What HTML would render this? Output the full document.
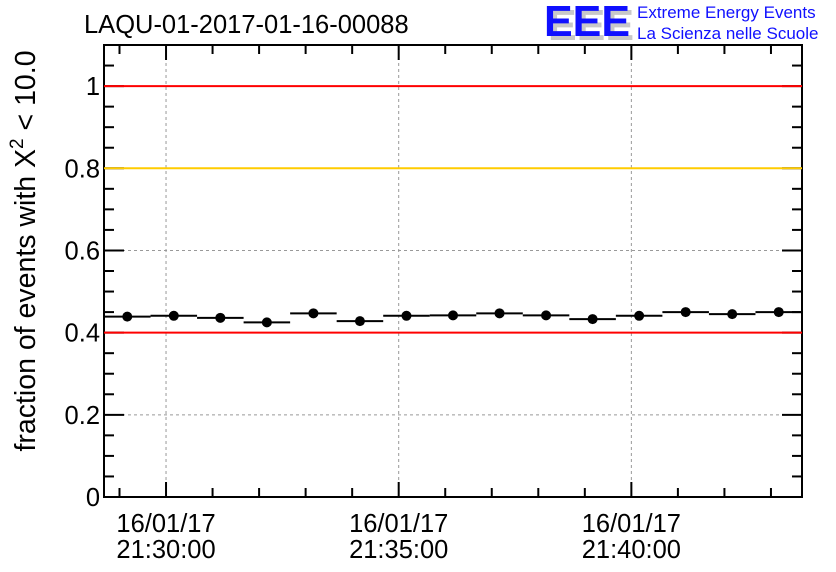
<!DOCTYPE html>
<html><head><meta charset="utf-8"><style>
html,body{margin:0;padding:0;background:#fff;}
svg{display:block;font-family:"Liberation Sans",sans-serif;}
</style></head><body>
<svg id="chart" width="836" height="572" viewBox="0 0 836 572">
<text x="84" y="33" font-size="25.5" fill="#000">LAQU-01-2017-01-16-00088</text>
<g>
<text x="548" y="40" font-size="44" font-weight="bold" fill="#c8c8c8" textLength="86" lengthAdjust="spacingAndGlyphs">EEE</text>
<text x="544" y="36" font-size="44" font-weight="bold" fill="#1010ff" textLength="86" lengthAdjust="spacingAndGlyphs">EEE</text>
<text x="637" y="18" font-size="17" fill="#1010ff">Extreme Energy Events</text>
<text x="637" y="39" font-size="17" fill="#1010ff">La Scienza nelle Scuole</text>
</g>
<text transform="translate(35,251) rotate(-90)" text-anchor="middle" font-size="28.5" fill="#000">fraction of events with X<tspan dy="-12" font-size="19">2</tspan><tspan dy="12"> &lt; 10.0</tspan></text>
<g id="grid"></g><g id="axes"></g><g id="marks"></g>
</svg>
<script>
const binStartMinutes = [-1.333,-0.333,0.667,1.667,2.667,3.667,4.667,5.667,6.667,7.667,8.667,9.667,10.667,11.667,12.667];
const fractionValues = [0.439,0.441,0.436,0.425,0.447,0.428,0.441,0.442,0.447,0.442,0.433,0.441,0.450,0.445,0.450];
const xTickMinutes = [0,5,10];
const xTickDates = ["16/01/17","16/01/17","16/01/17"];
const xTickTimes = ["21:30:00","21:35:00","21:40:00"];
const yTickValues = [0,0.2,0.4,0.6,0.8,1];
const yTickLabels = ["0","0.2","0.4","0.6","0.8","1"];
const refLineValues = [1,0.8,0.4];
const refLineColors = ["#ff0000","#ffcc00","#ff0000"];

const L=104,R=802,T=45,B=497;
const xMin=-1.333,xMax=13.667,yMin=0,yMax=1.1;
const xs=m=>L+(m-xMin)/(xMax-xMin)*(R-L);
const ys=v=>B-(v-yMin)/(yMax-yMin)*(B-T);
const NS="http://www.w3.org/2000/svg";
function mk(tag,attrs,parent){const e=document.createElementNS(NS,tag);for(const k in attrs)e.setAttribute(k,attrs[k]);parent.appendChild(e);return e;}
const grid=document.getElementById('grid'),axes=document.getElementById('axes'),marks=document.getElementById('marks');

yTickValues.forEach((v,i)=>{
  if(v>0&&v<1.05){const g=mk('line',{x1:L,x2:R,y1:ys(v),y2:ys(v),stroke:'#999','stroke-width':1,'stroke-dasharray':'3,3'},grid);
  
  }
  const t=mk('text',{x:L-4,y:ys(v)+9,'text-anchor':'end','font-size':25.5,fill:'#000'},axes);
  t.textContent=yTickLabels[i];
  
  
});
xTickMinutes.forEach((m,i)=>{
  const g=mk('line',{x1:xs(m),x2:xs(m),y1:T,y2:B,stroke:'#999','stroke-width':1,'stroke-dasharray':'3,3'},grid);
  
  
  const t1=mk('text',{x:xs(m),y:532,'text-anchor':'middle','font-size':25.5,fill:'#000'},axes);
  t1.textContent=xTickDates[i];
  
  
  const t2=mk('text',{x:xs(m),y:558,'text-anchor':'middle','font-size':25.5,fill:'#000'},axes);
  t2.textContent=xTickTimes[i];
  
  
});
for(let v=0;v<=1.1001;v+=0.05){
  const major=Math.abs(v/0.2-Math.round(v/0.2))<1e-6;const len=major?20:10;const y=ys(v);
  mk('line',{x1:L,x2:L+len,y1:y,y2:y,stroke:'#000','stroke-width':2},axes);
  mk('line',{x1:R,x2:R-len,y1:y,y2:y,stroke:'#000','stroke-width':2},axes);
}
for(let m=-1;m<=13;m++){
  const major=m%5===0;const len=major?15:9;const x=xs(m);
  mk('line',{x1:x,x2:x,y1:B,y2:B-len,stroke:'#000','stroke-width':2},axes);
  mk('line',{x1:x,x2:x,y1:T,y2:T+len,stroke:'#000','stroke-width':2},axes);
}
refLineValues.forEach((v,i)=>{
  const l=mk('line',{x1:L,x2:R,y1:ys(v),y2:ys(v),stroke:refLineColors[i],'stroke-width':2},marks);
  
  
});
const fr=mk('rect',{x:L,y:T,width:R-L,height:B-T,fill:'none',stroke:'#000','stroke-width':2},axes);


binStartMinutes.forEach((s,i)=>{
  const y=ys(fractionValues[i]);
  const l=mk('line',{x1:xs(s),x2:xs(s+1),y1:y,y2:y,stroke:'#000','stroke-width':2},marks);
  
  
  const c=mk('circle',{cx:xs(s+0.5),cy:y,r:5,fill:'#000'},marks);
  
  
});
</script>
</body></html>
